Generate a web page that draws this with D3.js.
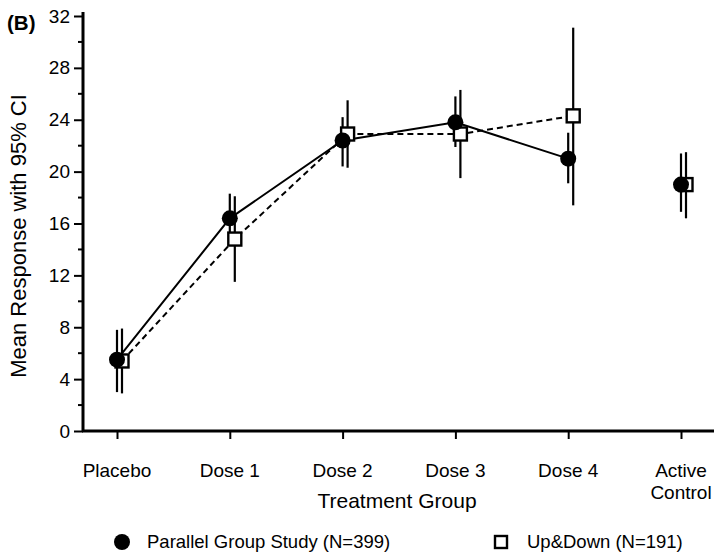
<!DOCTYPE html>
<html>
<head>
<meta charset="utf-8">
<script src="https://cdnjs.cloudflare.com/ajax/libs/d3/7.8.5/d3.min.js"></script>
<style>
body { margin: 0; background: #fff; }
svg { display: block; font-family: 'Liberation Sans', Arial, sans-serif; }
</style>
</head>
<body>
<svg width="714" height="552"></svg>
<script>
// chart values
var groups = ["Placebo", "Dose 1", "Dose 2", "Dose 3", "Dose 4", "Active Control"];
var parallelMean = [5.5, 16.4, 22.4, 23.8, 21.0, 19.0];
var parallelLow  = [3.0, 14.4, 20.4, 21.9, 19.1, 16.9];
var parallelHigh = [7.8, 18.3, 24.2, 25.8, 23.0, 21.4];
var updownMean = [5.4, 14.8, 22.9, 22.9, 24.3, 19.0];
var updownLow  = [2.9, 11.5, 20.3, 19.5, 17.4, 16.4];
var updownHigh = [7.9, 18.1, 25.5, 26.3, 31.1, 21.5];
var yTicks = [0, 4, 8, 12, 16, 20, 24, 28, 32];

var svg = d3.select("svg");

var x = d3.scalePoint().domain(groups).range([117, 681]);
var y = d3.scaleLinear().domain([0, 32]).range([431, 16]);
var sqOff = 5;   // squares sit a little to the right

// axes
var yAxis = d3.axisLeft(y).tickValues(yTicks).tickSize(9).tickSizeOuter(0).tickPadding(4);
var gy = svg.append("g").attr("transform", "translate(83,0)").call(yAxis);
gy.select(".domain").remove();
gy.selectAll(".tick line").attr("stroke", "#000").attr("stroke-width", 2);
gy.attr("font-size", 19).attr("font-family", null);
gy.selectAll("text").attr("fill", "#000");
// minor ticks
gy.selectAll("line.minor").data(d3.range(2, 32, 4)).enter().append("line")
  .attr("class", "minor")
  .attr("x1", -5).attr("x2", 0)
  .attr("y1", function (d) { return y(d); }).attr("y2", function (d) { return y(d); })
  .attr("stroke", "#000").attr("stroke-width", 2);
svg.append("line").attr("x1", 83).attr("x2", 83).attr("y1", 12).attr("y2", 432)
  .attr("stroke", "#000").attr("stroke-width", 3);
svg.append("line").attr("x1", 82).attr("x2", 714).attr("y1", 431).attr("y2", 431)
  .attr("stroke", "#000").attr("stroke-width", 3);

var xAxis = d3.axisBottom(x).tickSize(8).tickSizeOuter(0).tickFormat("");
var gx = svg.append("g").attr("transform", "translate(0,431)").call(xAxis);
gx.select(".domain").remove();
gx.selectAll(".tick line").attr("stroke", "#000").attr("stroke-width", 2);

groups.forEach(function (g) {
  var lines = g === "Active Control" ? ["Active", "Control"] : [g];
  var t = svg.append("text").attr("text-anchor", "middle").attr("font-size", 19)
    .attr("x", x(g)).attr("y", 477);
  lines.forEach(function (l, i) {
    t.append("tspan").attr("x", x(g)).attr("dy", i === 0 ? 0 : 22).text(l);
  });
});

svg.append("text").attr("x", 397).attr("y", 508).attr("text-anchor", "middle")
  .attr("font-size", 21).text("Treatment Group");
svg.append("text").attr("transform", "translate(26,236) rotate(-90)")
  .attr("text-anchor", "middle").attr("font-size", 22).text("Mean Response with 95% CI");
svg.append("text").attr("x", 7).attr("y", 30).attr("font-size", 20.5)
  .attr("font-weight", "bold").text("(B)");

// connecting lines (active control not joined)
var idx = d3.range(5);
var pLine = d3.line().x(function (i) { return x(groups[i]); }).y(function (i) { return y(parallelMean[i]); });
var uLine = d3.line().x(function (i) { return x(groups[i]) + sqOff; }).y(function (i) { return y(updownMean[i]); });
svg.append("path").attr("d", uLine(idx)).attr("fill", "none").attr("stroke", "#000")
  .attr("stroke-width", 2).attr("stroke-dasharray", "6,4");
svg.append("path").attr("d", pLine(idx)).attr("fill", "none").attr("stroke", "#000")
  .attr("stroke-width", 2);

// error bars
svg.selectAll("line.eu").data(groups).enter().append("line").attr("class", "eu")
  .attr("x1", function (d) { return x(d) + sqOff; }).attr("x2", function (d) { return x(d) + sqOff; })
  .attr("y1", function (d, i) { return y(updownLow[i]); })
  .attr("y2", function (d, i) { return y(updownHigh[i]); })
  .attr("stroke", "#000").attr("stroke-width", 2.2);
svg.selectAll("line.ep").data(groups).enter().append("line").attr("class", "ep")
  .attr("x1", function (d) { return x(d); }).attr("x2", function (d) { return x(d); })
  .attr("y1", function (d, i) { return y(parallelLow[i]); })
  .attr("y2", function (d, i) { return y(parallelHigh[i]); })
  .attr("stroke", "#000").attr("stroke-width", 2.2);

// markers
svg.selectAll("rect.u").data(groups).enter().append("rect").attr("class", "u")
  .attr("x", function (d) { return x(d) + sqOff - 6.5; })
  .attr("y", function (d, i) { return y(updownMean[i]) - 6.5; })
  .attr("width", 13).attr("height", 13)
  .attr("fill", "#fff").attr("stroke", "#000").attr("stroke-width", 2.4);
svg.selectAll("circle.p").data(groups).enter().append("circle").attr("class", "p")
  .attr("cx", function (d) { return x(d); })
  .attr("cy", function (d, i) { return y(parallelMean[i]); })
  .attr("r", 8).attr("fill", "#000");

// legend
svg.append("circle").attr("cx", 122).attr("cy", 542).attr("r", 8).attr("fill", "#000");
svg.append("text").attr("x", 147).attr("y", 548).attr("font-size", 18.5)
  .text("Parallel Group Study (N=399)");
svg.append("rect").attr("x", 495).attr("y", 536).attr("width", 12).attr("height", 12)
  .attr("fill", "#fff").attr("stroke", "#000").attr("stroke-width", 2.4);
svg.append("text").attr("x", 527).attr("y", 548).attr("font-size", 18.5)
  .text("Up&Down (N=191)");
</script>
</body>
</html>
